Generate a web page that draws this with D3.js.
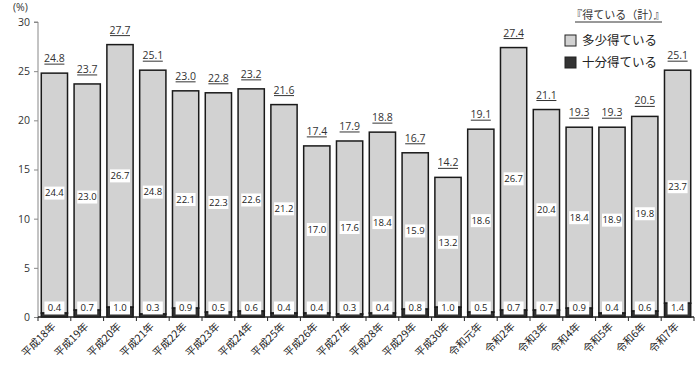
<!DOCTYPE html>
<html>
<head>
<meta charset="utf-8">
<script src="https://cdn.jsdelivr.net/npm/d3@7"></script>
<style>
  body { margin: 0; background: #fff; }
  svg { display: block; }
  text { font-family: "Open Sans", "Noto Sans CJK JP", sans-serif; }
  .jp { font-family: "Noto Sans CJK JP", sans-serif; }
</style>
</head>
<body>
<div id="chart"></div>
<script>
"use strict";

//Chart data
const years = [
  "平成18年", "平成19年", "平成20年", "平成21年", "平成22年", "平成23年", "平成24年",
  "平成25年", "平成26年", "平成27年", "平成28年", "平成29年", "平成30年", "令和元年",
  "令和2年", "令和3年", "令和4年", "令和5年", "令和6年", "令和7年",
];
const totals = [24.8, 23.7, 27.7, 25.1, 23.0, 22.8, 23.2, 21.6, 17.4, 17.9, 18.8, 16.7, 14.2, 19.1, 27.4, 21.1, 19.3, 19.3, 20.5, 25.1];
const somewhat = [24.4, 23.0, 26.7, 24.8, 22.1, 22.3, 22.6, 21.2, 17.0, 17.6, 18.4, 15.9, 13.2, 18.6, 26.7, 20.4, 18.4, 18.9, 19.8, 23.7];
const enough = [0.4, 0.7, 1.0, 0.3, 0.9, 0.5, 0.6, 0.4, 0.4, 0.3, 0.4, 0.8, 1.0, 0.5, 0.7, 0.7, 0.9, 0.4, 0.6, 1.4];
const yTicks = [0, 5, 10, 15, 20, 25, 30];

const w = 700;
const h = 365;
const margin = { top: 22, left: 38, right: 6, bottom: 48 };

const svg = d3.select("#chart").append("svg").attr("width", w).attr("height", h);

const data = years.map((year, i) => ({
  year,
  total: totals[i],
  somewhat: somewhat[i],
  enough: enough[i],
}));

//Scales
const xScale = d3
  .scaleBand()
  .domain(years)
  .range([margin.left, w - margin.right])
  .paddingInner(0.2)
  .paddingOuter(0.1);

const yScale = d3
  .scaleLinear()
  .domain([0, 30])
  .range([h - margin.bottom, margin.top]);

//y Axis
svg
  .append("g")
  .attr("transform", `translate(${margin.left}, 0)`)
  .call(d3.axisLeft(yScale).tickValues(yTicks).tickSize(4).tickPadding(4))
  .call((g) => g.select(".domain").attr("stroke", "#888").attr("d", `M-4,${yScale(30)}H0V${yScale(0)}`))
  .call((g) => g.selectAll(".tick line").attr("stroke", "#888"))
  .call((g) => g.selectAll(".tick text").attr("fill", "#333").style("font-size", "10.5px"));

svg
  .append("text")
  .attr("x", 13)
  .attr("y", 11)
  .attr("fill", "#333")
  .style("font-size", "10.5px")
  .text("(%)");

//Bars
const bars = svg.append("g").selectAll("g").data(data).enter().append("g");

bars
  .append("rect")
  .attr("x", (d) => xScale(d.year))
  .attr("y", (d) => yScale(d.enough + d.somewhat))
  .attr("width", xScale.bandwidth())
  .attr("height", (d) => yScale(d.enough) - yScale(d.enough + d.somewhat))
  .attr("fill", "#d2d2d2")
  .attr("stroke", "#1a1a1a")
  .attr("stroke-width", 1.5);

bars
  .append("rect")
  .attr("x", (d) => xScale(d.year))
  .attr("y", (d) => yScale(d.enough))
  .attr("width", xScale.bandwidth())
  .attr("height", (d) => yScale(0) - yScale(d.enough))
  .attr("fill", "#333")
  .attr("stroke", "#1a1a1a")
  .attr("stroke-width", 1.5);

//Value labels with white boxes
const addBoxLabel = (sel, yFn, valFn) => {
  const g = sel
    .append("g")
    .attr("transform", (d) => `translate(${xScale(d.year) + xScale.bandwidth() / 2}, ${yFn(d)})`);
  g.append("rect")
    .attr("x", -10)
    .attr("y", -6.5)
    .attr("width", 20)
    .attr("height", 13)
    .attr("fill", "#fff");
  g.append("text")
    .attr("text-anchor", "middle")
    .attr("dy", "0.35em")
    .attr("fill", "#222")
    .style("font-size", "9.5px")
    .text((d) => valFn(d).toFixed(1));
};

addBoxLabel(bars, (d) => yScale(d.enough + d.somewhat / 2), (d) => d.somewhat);
addBoxLabel(bars, () => yScale(0) - 9, (d) => d.enough);

//Total labels (underlined)
const totalG = bars
  .append("g")
  .attr("transform", (d) => `translate(${xScale(d.year) + xScale.bandwidth() / 2}, ${yScale(d.total) - 11})`);

totalG
  .append("text")
  .attr("text-anchor", "middle")
  .attr("fill", "#333")
  .style("font-size", "10.5px")
  .text((d) => d.total.toFixed(1));

totalG
  .append("line")
  .attr("x1", -10)
  .attr("x2", 10)
  .attr("y1", 2)
  .attr("y2", 2)
  .attr("stroke", "#333")
  .attr("stroke-width", 1);

//x Axis
const xAxisG = svg
  .append("g")
  .attr("transform", `translate(0, ${yScale(0)})`);

xAxisG
  .append("line")
  .attr("x1", margin.left)
  .attr("x2", w - margin.right)
  .attr("stroke", "#222")
  .attr("stroke-width", 1.5);

const step = xScale.step();
xAxisG
  .selectAll(".sep")
  .data(years.concat([null]))
  .enter()
  .append("line")
  .attr("x1", (d, i) => margin.left + xScale.paddingOuter() * step - xScale.paddingInner() * step / 2 + i * step)
  .attr("x2", (d, i) => margin.left + xScale.paddingOuter() * step - xScale.paddingInner() * step / 2 + i * step)
  .attr("y1", 0)
  .attr("y2", 4)
  .attr("stroke", "#222");

xAxisG
  .selectAll(".lbl")
  .data(years)
  .enter()
  .append("text")
  .attr("class", "jp")
  .attr("text-anchor", "end")
  .attr("fill", "#222")
  .style("font-size", "10.5px")
  .attr("transform", (d) => `translate(${xScale(d) + xScale.bandwidth() / 2 + 2}, 10) rotate(-45)`)
  .text((d) => d);

//Legend
const legend = svg.append("g").attr("class", "jp");

legend
  .append("text")
  .attr("x", 618)
  .attr("y", 19)
  .attr("text-anchor", "middle")
  .attr("fill", "#333")
  .style("font-size", "11px")
  .text("『得ている（計）』");

legend
  .append("line")
  .attr("x1", 575)
  .attr("x2", 662)
  .attr("y1", 22)
  .attr("y2", 22)
  .attr("stroke", "#333");

const legendItems = [
  { label: "多少得ている", fill: "#d2d2d2" },
  { label: "十分得ている", fill: "#333" },
];

const li = legend
  .selectAll(".item")
  .data(legendItems)
  .enter()
  .append("g")
  .attr("transform", (d, i) => `translate(565, ${35 + i * 22})`);

li.append("rect")
  .attr("width", 11)
  .attr("height", 11)
  .attr("fill", (d) => d.fill)
  .attr("stroke", "#222");

li.append("text")
  .attr("x", 17)
  .attr("y", 10)
  .attr("fill", "#222")
  .style("font-size", "12.5px")
  .text((d) => d.label);
</script>
</body>
</html>
